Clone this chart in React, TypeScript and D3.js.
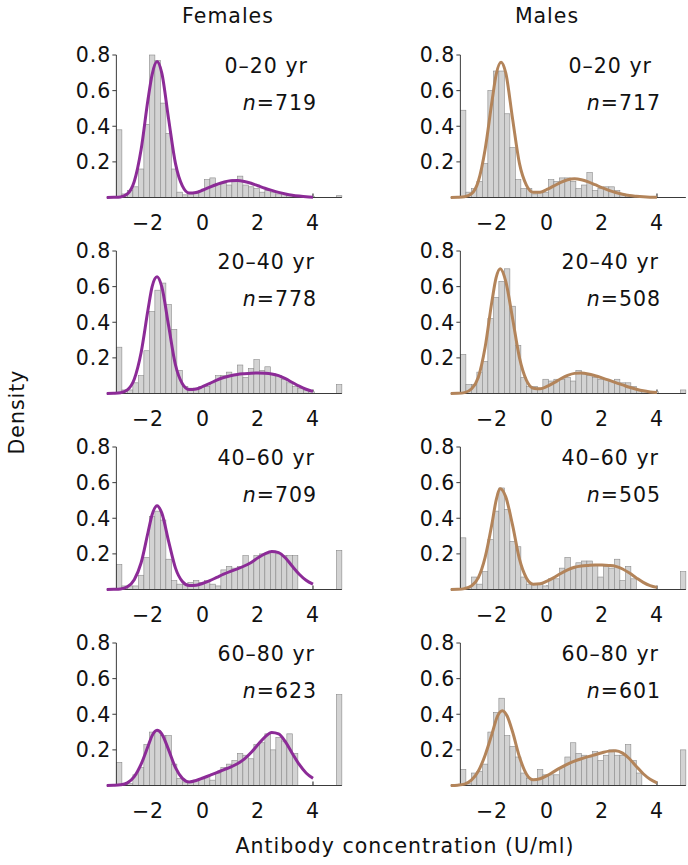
import React from "react";
import * as d3 from "d3";

// ---------- data ----------
const SEXES = ["Females", "Males"];
const AGE_GROUPS = ["0–20 yr", "20–40 yr", "40–60 yr", "60–80 yr"];
const N_FEMALE = [719, 778, 709, 623];
const N_MALE = [717, 508, 505, 601];
const X_TICKS = [-2, 0, 2, 4];
const Y_TICKS = [0.2, 0.4, 0.6, 0.8];
const BIN_START = -3.15;
const BIN_WIDTH = 0.2;
const HIGH_BIN_START = 4.85;

// histogram densities, bins of width 0.2 starting at -3.15
const F1_BARS = [0.38, 0.02, 0.04, 0.06, 0.16, 0.41, 0.8, 0.77, 0.53, 0.36, 0.16, 0.03, 0.015, 0.02, 0.025, 0.04, 0.1, 0.11, 0.08, 0.08, 0.07, 0.1, 0.12, 0.07, 0.06, 0.05, 0.03, 0.04, 0.03, 0.02, 0.02, 0.015, 0.01, 0.01, 0.005, 0.005];
const M1_BARS = [0.49, 0.03, 0.05, 0.09, 0.19, 0.6, 0.71, 0.71, 0.47, 0.28, 0.1, 0.05, 0.05, 0.02, 0.03, 0.03, 0.1, 0.09, 0.11, 0.11, 0.09, 0.05, 0.07, 0.14, 0.04, 0.05, 0.06, 0.06, 0.04, 0.02, 0.01, 0.005, 0.005, 0, 0, 0];
const F2_BARS = [0.26, 0.02, 0.02, 0.06, 0.1, 0.24, 0.46, 0.58, 0.62, 0.5, 0.36, 0.13, 0.04, 0.03, 0.03, 0.04, 0.04, 0.06, 0.1, 0.1, 0.12, 0.1, 0.16, 0.09, 0.14, 0.19, 0.13, 0.15, 0.11, 0.1, 0.08, 0.06, 0.04, 0.03, 0.02, 0.01];
const M2_BARS = [0.22, 0.05, 0.05, 0.12, 0.18, 0.42, 0.54, 0.63, 0.7, 0.49, 0.27, 0.09, 0.04, 0.04, 0.03, 0.08, 0.07, 0.08, 0.08, 0.09, 0.07, 0.13, 0.11, 0.1, 0.09, 0.08, 0.08, 0.07, 0.08, 0.06, 0.06, 0.04, 0.02, 0.01, 0.01, 0.01];
const F3_BARS = [0.14, 0.02, 0.02, 0.02, 0.08, 0.18, 0.41, 0.44, 0.39, 0.17, 0.05, 0.03, 0.03, 0.04, 0.05, 0.04, 0.05, 0.03, 0.02, 0.11, 0.13, 0.12, 0.13, 0.19, 0.15, 0.19, 0.2, 0.2, 0.21, 0.2, 0.19, 0.19, 0.19, 0, 0, 0];
const M3_BARS = [0.29, 0.01, 0.07, 0.03, 0.1, 0.28, 0.44, 0.57, 0.45, 0.27, 0.24, 0.07, 0.03, 0.03, 0.03, 0.02, 0.06, 0.06, 0.12, 0.18, 0.12, 0.15, 0.16, 0.16, 0.14, 0.07, 0.13, 0.12, 0.17, 0.05, 0.13, 0.06, 0, 0, 0, 0];
const F4_BARS = [0.13, 0.005, 0.01, 0.06, 0.1, 0.23, 0.3, 0.31, 0.28, 0.28, 0.12, 0.04, 0.02, 0.02, 0.03, 0.04, 0.05, 0.03, 0.07, 0.1, 0.12, 0.14, 0.18, 0.17, 0.15, 0.23, 0.24, 0.29, 0.2, 0.27, 0.25, 0.29, 0.18, 0, 0, 0];
const M4_BARS = [0.09, 0.01, 0.07, 0.08, 0.12, 0.3, 0.41, 0.49, 0.28, 0.22, 0.16, 0.07, 0.04, 0.03, 0.09, 0.06, 0.06, 0.06, 0.1, 0.16, 0.24, 0.18, 0.17, 0.16, 0.19, 0.14, 0.17, 0.2, 0.17, 0.17, 0.23, 0.14, 0.07, 0, 0, 0];

// censored high-value bar (x ≈ 5)
const F_HIGH = [0.01, 0.05, 0.22, 0.51];
const M_HIGH = [0, 0.02, 0.1, 0.2];

// fitted density curves, [x, density]
const F1_CURVE: [number, number][] = [[-3.5, 0], [-3.25, 0.001], [-3, 0.003], [-2.75, 0.02], [-2.5, 0.09], [-2.25, 0.27], [-2, 0.55], [-1.85, 0.69], [-1.67, 0.763], [-1.5, 0.7], [-1.25, 0.44], [-1, 0.19], [-0.75, 0.065], [-0.5, 0.025], [-0.25, 0.028], [0, 0.042], [0.25, 0.058], [0.5, 0.073], [0.75, 0.086], [1, 0.094], [1.25, 0.095], [1.5, 0.09], [1.75, 0.08], [2, 0.066], [2.25, 0.052], [2.5, 0.04], [2.75, 0.029], [3, 0.02], [3.25, 0.013], [3.5, 0.008], [3.75, 0.004], [4, 0.002]];
const M1_CURVE: [number, number][] = [[-3.5, 0], [-3.25, 0.001], [-3, 0.004], [-2.75, 0.02], [-2.5, 0.09], [-2.25, 0.27], [-2, 0.54], [-1.85, 0.69], [-1.67, 0.76], [-1.5, 0.7], [-1.25, 0.44], [-1, 0.19], [-0.75, 0.07], [-0.5, 0.03], [-0.25, 0.03], [0, 0.045], [0.25, 0.065], [0.5, 0.085], [0.75, 0.1], [1, 0.105], [1.25, 0.1], [1.5, 0.088], [1.75, 0.072], [2, 0.055], [2.25, 0.04], [2.5, 0.028], [2.75, 0.018], [3, 0.011], [3.25, 0.007], [3.5, 0.004], [3.75, 0.002], [4, 0.001]];
const F2_CURVE: [number, number][] = [[-3.5, 0], [-3.25, 0.001], [-3, 0.004], [-2.75, 0.02], [-2.5, 0.08], [-2.25, 0.23], [-2, 0.47], [-1.85, 0.6], [-1.67, 0.655], [-1.5, 0.6], [-1.25, 0.38], [-1, 0.16], [-0.75, 0.055], [-0.5, 0.022], [-0.25, 0.025], [0, 0.04], [0.25, 0.057], [0.5, 0.075], [0.75, 0.09], [1, 0.1], [1.25, 0.107], [1.5, 0.111], [1.75, 0.114], [2, 0.115], [2.25, 0.114], [2.5, 0.11], [2.75, 0.1], [3, 0.083], [3.25, 0.062], [3.5, 0.041], [3.75, 0.024], [4, 0.012]];
const M2_CURVE: [number, number][] = [[-3.5, 0], [-3.25, 0.001], [-3, 0.005], [-2.75, 0.025], [-2.5, 0.09], [-2.25, 0.26], [-2, 0.52], [-1.85, 0.65], [-1.7, 0.7], [-1.5, 0.63], [-1.25, 0.42], [-1, 0.2], [-0.75, 0.075], [-0.5, 0.03], [-0.25, 0.027], [0, 0.04], [0.25, 0.06], [0.5, 0.083], [0.75, 0.102], [1, 0.113], [1.25, 0.115], [1.5, 0.11], [1.75, 0.1], [2, 0.088], [2.25, 0.075], [2.5, 0.061], [2.75, 0.048], [3, 0.035], [3.25, 0.024], [3.5, 0.015], [3.75, 0.009], [4, 0.005]];
const F3_CURVE: [number, number][] = [[-3.5, 0], [-3.25, 0.001], [-3, 0.003], [-2.75, 0.015], [-2.5, 0.055], [-2.25, 0.15], [-2, 0.32], [-1.85, 0.42], [-1.67, 0.47], [-1.5, 0.43], [-1.25, 0.27], [-1, 0.12], [-0.75, 0.045], [-0.5, 0.022], [-0.25, 0.024], [0, 0.035], [0.25, 0.05], [0.5, 0.068], [0.75, 0.086], [1, 0.102], [1.25, 0.116], [1.5, 0.132], [1.75, 0.152], [2, 0.178], [2.25, 0.2], [2.5, 0.213], [2.75, 0.207], [3, 0.177], [3.25, 0.13], [3.5, 0.086], [3.75, 0.052], [4, 0.03]];
const M3_CURVE: [number, number][] = [[-3.5, 0], [-3.25, 0.001], [-3, 0.005], [-2.75, 0.02], [-2.5, 0.065], [-2.25, 0.18], [-2, 0.37], [-1.85, 0.5], [-1.7, 0.565], [-1.5, 0.52], [-1.25, 0.36], [-1, 0.17], [-0.75, 0.065], [-0.5, 0.03], [-0.25, 0.032], [0, 0.047], [0.25, 0.067], [0.5, 0.09], [0.75, 0.11], [1, 0.125], [1.25, 0.132], [1.5, 0.135], [1.75, 0.137], [2, 0.137], [2.25, 0.135], [2.5, 0.13], [2.75, 0.115], [3, 0.092], [3.25, 0.065], [3.5, 0.04], [3.75, 0.022], [4, 0.012]];
const F4_CURVE: [number, number][] = [[-3.5, 0], [-3.25, 0.001], [-3, 0.004], [-2.75, 0.015], [-2.5, 0.05], [-2.25, 0.12], [-2, 0.22], [-1.85, 0.28], [-1.67, 0.31], [-1.5, 0.29], [-1.25, 0.2], [-1, 0.1], [-0.75, 0.04], [-0.5, 0.02], [-0.25, 0.028], [0, 0.042], [0.25, 0.057], [0.5, 0.072], [0.75, 0.088], [1, 0.103], [1.25, 0.122], [1.5, 0.148], [1.75, 0.185], [2, 0.23], [2.25, 0.272], [2.5, 0.298], [2.75, 0.29], [3, 0.245], [3.25, 0.18], [3.5, 0.118], [3.75, 0.07], [4, 0.04]];
const M4_CURVE: [number, number][] = [[-3.5, 0], [-3.25, 0.002], [-3, 0.008], [-2.75, 0.03], [-2.5, 0.08], [-2.25, 0.17], [-2, 0.29], [-1.8, 0.39], [-1.62, 0.42], [-1.45, 0.39], [-1.25, 0.3], [-1, 0.16], [-0.75, 0.065], [-0.5, 0.032], [-0.25, 0.038], [0, 0.055], [0.25, 0.078], [0.5, 0.1], [0.75, 0.12], [1, 0.137], [1.25, 0.15], [1.5, 0.162], [1.75, 0.173], [2, 0.184], [2.25, 0.193], [2.5, 0.195], [2.75, 0.182], [3, 0.15], [3.25, 0.107], [3.5, 0.066], [3.75, 0.035], [4, 0.015]];

const FEMALE_BARS = [F1_BARS, F2_BARS, F3_BARS, F4_BARS];
const MALE_BARS = [M1_BARS, M2_BARS, M3_BARS, M4_BARS];
const FEMALE_CURVES = [F1_CURVE, F2_CURVE, F3_CURVE, F4_CURVE];
const MALE_CURVES = [M1_CURVE, M2_CURVE, M3_CURVE, M4_CURVE];

// ---------- layout / style ----------
const W = 688;
const H = 865;
const FONT = "'DejaVu Sans', Verdana, sans-serif";
const FS = 20.5;
const LS = 1;
const COL_X0 = [106.75, 450.75];
const PANEL_W = 235.1;
const ROW_BASE = 197.5;
const ROW_PITCH = 196;
const PANEL_H = 142.5;
const COLORS = ["#8c2b97", "#b3845a"];
const AXIS = "#3a3a3a";

function Panel({ col, row }: { col: number; row: number }) {
  const bars = col === 0 ? FEMALE_BARS[row] : MALE_BARS[row];
  const curve = col === 0 ? FEMALE_CURVES[row] : MALE_CURVES[row];
  const high = col === 0 ? F_HIGH[row] : M_HIGH[row];
  const n = col === 0 ? N_FEMALE[row] : N_MALE[row];
  const x = d3.scaleLinear().domain([-3.5, 5.05]).range([COL_X0[col], COL_X0[col] + PANEL_W]);
  const base = ROW_BASE + row * ROW_PITCH;
  const y = d3.scaleLinear().domain([0, 0.8]).range([base, base - PANEL_H]);
  const line = d3
    .line<[number, number]>()
    .x((d) => x(d[0]))
    .y((d) => y(d[1]))
    .curve(d3.curveMonotoneX);
  const allBars = bars.map((h, i) => ({ x0: BIN_START + i * BIN_WIDTH, h }));
  allBars.push({ x0: HIGH_BIN_START, h: high });
  const axisX = x(BIN_START);
  const labelX = x(2.3);
  const nX = x(4.15);
  return (
    <g>
      {/* x ticks (hidden under bars) */}
      {X_TICKS.map((t) => (
        <line key={"xt" + t} x1={x(t)} x2={x(t)} y1={y(0)} y2={y(0) - 4} stroke={AXIS} strokeWidth={1.2} />
      ))}
      {allBars
        .filter((b) => b.h > 0)
        .map((b, i) => (
          <rect
            key={i}
            x={x(b.x0)}
            y={y(b.h)}
            width={x(b.x0 + BIN_WIDTH) - x(b.x0)}
            height={y(0) - y(b.h)}
            fill="#d3d3d3"
            stroke="#8a8a8a"
            strokeWidth={0.6}
          />
        ))}
      <line x1={x(-3.5)} x2={x(5.05)} y1={y(0)} y2={y(0)} stroke={AXIS} strokeWidth={1.2} />
      <line x1={axisX} x2={axisX} y1={y(0)} y2={y(0.8)} stroke={AXIS} strokeWidth={1} />
      {Y_TICKS.map((t) => (
        <g key={"yt" + t}>
          <line x1={axisX - 4} x2={axisX} y1={y(t)} y2={y(t)} stroke={AXIS} strokeWidth={1} />
          <text
            x={axisX - 5}
            y={y(t)}
            dy="0.36em"
            textAnchor="end"
            fontFamily={FONT}
            fontSize={FS}
            letterSpacing={LS}
            fill="#111"
          >
            {t.toFixed(1)}
          </text>
        </g>
      ))}
      {X_TICKS.map((t) => (
        <text
          key={"xl" + t}
          x={x(t)}
          y={y(0) + 32}
          textAnchor="middle"
          fontFamily={FONT}
          fontSize={FS}
          letterSpacing={LS}
          fill="#111"
        >
          {t < 0 ? "\u2212" + Math.abs(t) : String(t)}
        </text>
      ))}
      <path d={line(curve) || ""} fill="none" stroke={COLORS[col]} strokeWidth={3} strokeLinejoin="round" />
      <text x={labelX} y={y(0.8) + 18} textAnchor="middle" fontFamily={FONT} fontSize={FS} letterSpacing={LS} fill="#111">
        {AGE_GROUPS[row]}
      </text>
      <text x={nX} y={y(0.8) + 55} textAnchor="end" fontFamily={FONT} fontSize={FS} letterSpacing={LS} fill="#111">
        <tspan fontStyle="italic">n</tspan>={n}
      </text>
    </g>
  );
}

export default function App() {
  const rows = [0, 1, 2, 3];
  return (
    <svg
      width={W}
      height={H}
      viewBox={`0 0 ${W} ${H}`}
      style={{ position: "absolute", left: 0, top: 0, background: "#fff" }}
    >
      <rect x={0} y={0} width={W} height={H} fill="#fff" />
      <text x={228} y={23} textAnchor="middle" fontFamily={FONT} fontSize={FS} letterSpacing={LS} fill="#111">
        {SEXES[0]}
      </text>
      <text x={547} y={23} textAnchor="middle" fontFamily={FONT} fontSize={FS} letterSpacing={LS} fill="#111">
        {SEXES[1]}
      </text>
      {rows.map((r) => (
        <g key={r}>
          <Panel col={0} row={r} />
          <Panel col={1} row={r} />
        </g>
      ))}
      <text
        transform="translate(24,412) rotate(-90)"
        textAnchor="middle"
        fontFamily={FONT}
        fontSize={FS}
        letterSpacing={LS}
        fill="#111"
      >
        Density
      </text>
      <text x={405} y={853} textAnchor="middle" fontFamily={FONT} fontSize={FS} letterSpacing={LS} fill="#111">
        Antibody concentration (U/ml)
      </text>
    </svg>
  );
}
